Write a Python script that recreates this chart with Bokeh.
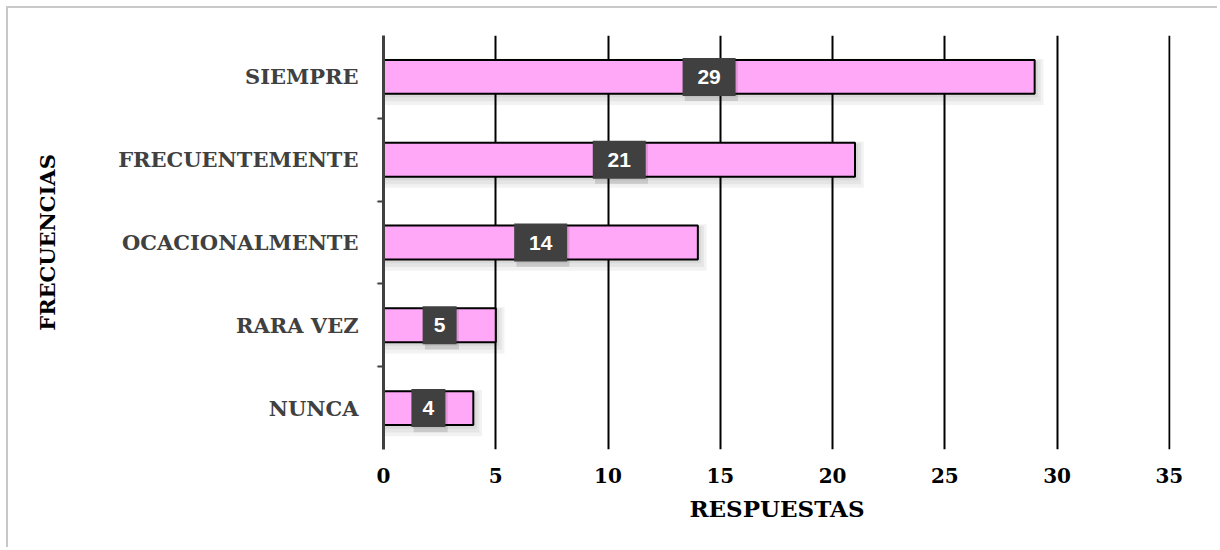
from bokeh.plotting import figure
from bokeh.models import ColumnDataSource, Range1d, CategoricalAxis, FixedTicker, FactorRange
from bokeh.transform import dodge
from bokeh.core.properties import value
from bokeh.embed import file_html
from bokeh.resources import INLINE

categories = ["NUNCA", "RARA VEZ", "OCACIONALMENTE", "FRECUENTEMENTE", "SIEMPRE"]
responses = [4, 5, 14, 21, 29]
x_ticks = [0, 5, 10, 15, 20, 25, 30, 35]
x_title = "RESPUESTAS"
y_title = "FRECUENCIAS"

src = ColumnDataSource(dict(
    cat=categories,
    val=responses,
    mid=[v / 2 for v in responses],
    lbl=[str(v) for v in responses],
    boxw=[19 * len(str(v)) + 15 for v in responses],
))

SERIF = "DejaVu Serif"

p = figure(width=1211, height=541,
           y_range=FactorRange(*categories), x_range=Range1d(0, 35.05),
           output_backend="svg", toolbar_location=None,
           min_border_left=375, min_border_right=49,
           min_border_top=27, min_border_bottom=100)
p.styles = {"margin-left": "6px", "margin-top": "6px",
            "border-top": "2px solid #c8c8c8", "border-left": "2px solid #c8c8c8",
            "border-right": "none", "border-bottom": "none"}
p.outline_line_color = None
p.background_fill_color = "white"
p.border_fill_color = "white"

# x axis
p.xaxis.ticker = FixedTicker(ticks=x_ticks)
p.xaxis.axis_line_color = None
p.xaxis.major_tick_line_color = None
p.xaxis.minor_tick_line_color = None
p.xaxis.major_label_standoff = 12
p.xaxis.major_label_text_font = SERIF
p.xaxis.major_label_text_font_style = "bold"
p.xaxis.major_label_text_font_size = "20px"
p.xaxis.major_label_text_color = "black"
p.xaxis.axis_label = x_title
p.xaxis.axis_label_text_font = SERIF
p.xaxis.axis_label_text_font_style = "bold"
p.xaxis.axis_label_text_font_size = "23px"
p.xaxis.axis_label_text_color = "black"
p.xaxis.axis_label_standoff = 9

p.xgrid.ticker = FixedTicker(ticks=x_ticks)
p.xgrid.grid_line_color = "black"
p.xgrid.grid_line_width = 2
p.ygrid.grid_line_color = None

# categorical axis (labels only)
cat_axis = p.yaxis[0]
cat_axis.axis_line_color = None
cat_axis.major_tick_line_color = None
cat_axis.minor_tick_line_color = None
cat_axis.major_label_standoff = 9
cat_axis.major_label_text_font = SERIF
cat_axis.major_label_text_font_style = "bold"
cat_axis.major_label_text_font_size = "21px"
cat_axis.major_label_text_color = "#404040"
cat_axis.axis_label = y_title
cat_axis.axis_label_text_font = SERIF
cat_axis.axis_label_text_font_style = "bold"
cat_axis.axis_label_text_font_size = "21px"
cat_axis.axis_label_text_color = "black"
cat_axis.axis_label_standoff = 55

# second categorical range whose factor centres fall on the band boundaries
edge_factors = ["e%d" % i for i in range(len(categories) + 1)]
p.extra_y_ranges = {"edges": FactorRange(factors=edge_factors, range_padding=-0.5,
                                         range_padding_units="absolute")}
edge_axis = CategoricalAxis(y_range_name="edges")
edge_axis.axis_line_color = "#404040"
edge_axis.axis_line_width = 3
edge_axis.major_tick_line_color = "#404040"
edge_axis.major_tick_line_width = 2
edge_axis.major_tick_out = 6
edge_axis.major_tick_in = 0
edge_axis.major_label_overrides = {f: "" for f in edge_factors}
edge_axis.major_label_text_font_size = "1px"
edge_axis.major_label_standoff = 0
p.left = [edge_axis, cat_axis]

# shadows
for k, a in enumerate([0.05, 0.05, 0.05]):
    p.hbar(y=dodge("cat", -0.03 - 0.015 * k, range=p.y_range), left=0,
           right=dodge("val", 0.15 + 0.12 * k), height=0.44 + 0.06 * k,
           fill_color="black", fill_alpha=a, line_color=None, source=src)

# bars
p.hbar(y="cat", left=0, right="val", height=0.41, fill_color="#FFA8F8",
       line_color="black", line_width=2, source=src)

# label boxes
p.rect(x=dodge("mid", 0.1), y=dodge("cat", -0.05, range=p.y_range), width="boxw", width_units="screen",
       height=40, height_units="screen", fill_color="black", fill_alpha=0.12,
       line_color=None, source=src)
p.rect(x="mid", y="cat", width="boxw", width_units="screen",
       height=38, height_units="screen", fill_color="#404040",
       line_color=None, source=src)
p.text(x="mid", y="cat", text="lbl", text_font=value("Liberation Sans"),
       text_font_style="bold", text_font_size="21px", text_color="white",
       text_align="center", text_baseline="middle", source=src)

open("out.html", "w").write(file_html(p, INLINE))
